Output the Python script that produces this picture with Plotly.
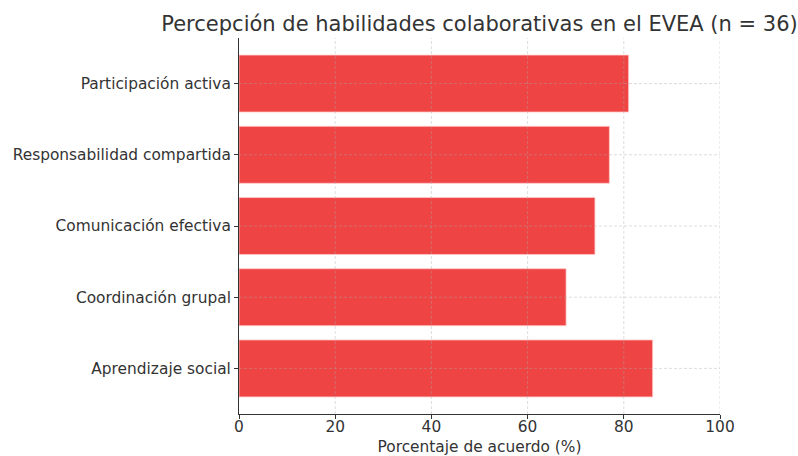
import plotly.graph_objects as go

categories = ["Aprendizaje social", "Coordinación grupal", "Comunicación efectiva",
              "Responsabilidad compartida", "Participación activa"]
values = [86, 68, 74, 77, 81]
x_ticks = [0, 20, 40, 60, 80, 100]
title = "Percepción de habilidades colaborativas en el EVEA (n = 36)"
x_label = "Porcentaje de acuerdo (%)"

font_family = "DejaVu Sans, sans-serif"
text_color = "#333333"
grid_color = "rgba(170,170,170,0.5)"
fs = 15.4

fig = go.Figure(go.Bar(
    x=values, y=categories, orientation="h", width=0.8,
    marker=dict(color="#EF4444", line=dict(color="rgba(255,200,200,0.8)", width=1)),
))

shapes = []
for t in x_ticks[1:]:
    shapes.append(dict(type="line", xref="x", yref="paper", x0=t, x1=t, y0=0, y1=1,
                       line=dict(color=grid_color, width=0.8, dash="3px,2px"), layer="above"))
for c in categories:
    shapes.append(dict(type="line", xref="paper", yref="y", x0=0, x1=1, y0=c, y1=c,
                       line=dict(color=grid_color, width=0.8, dash="3px,2px"), layer="above"))

fig.update_layout(
    width=798, height=456,
    margin=dict(l=239, r=78, t=38, b=42, autoexpand=False),
    paper_bgcolor="white", plot_bgcolor="white",
    font=dict(family=font_family, size=fs, color=text_color),
    title=dict(text=title, x=(239 + 720) / 2 / 798, xanchor="center", y=1 - 24 / 456,
               yanchor="middle", font=dict(size=21, color=text_color)),
    showlegend=False,
    shapes=shapes,
    bargap=0.2,
)
fig.update_xaxes(
    range=[0, 100], tickvals=x_ticks, ticks="outside", ticklen=4, tickcolor="#333",
    showline=True, linecolor="#333", linewidth=1, showgrid=False, zeroline=False,
    title=dict(text=x_label, standoff=5, font=dict(size=fs)),
    tickfont=dict(size=fs), automargin=False, ticklabelstandoff=-5,
)
fig.update_yaxes(
    categoryorder="array", categoryarray=categories, range=[-0.64, 4.64],
    ticks="outside", ticklen=4, tickcolor="#333", showline=True, linecolor="#333",
    linewidth=1, showgrid=False, zeroline=False, tickfont=dict(size=fs), automargin=False,
)

fig.write_html("out.html", post_script="document.body.style.margin='0';",
               config={"displayModeBar": False})
